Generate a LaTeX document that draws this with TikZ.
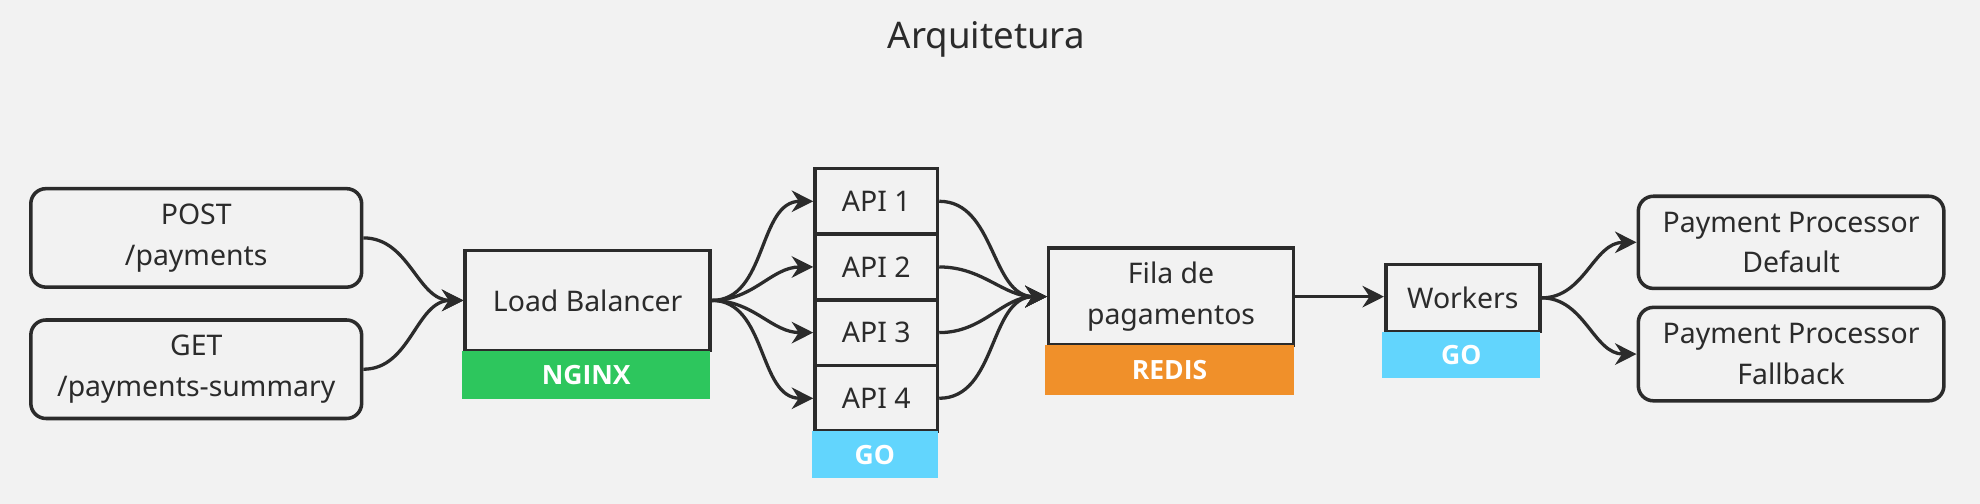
\documentclass[tikz,border=0pt]{standalone}
\usepackage{fontspec}
\setmainfont{Noto Sans}
\newfontfamily\badgefont{Open Sans}
\usetikzlibrary{arrows.meta}
\definecolor{bgc}{HTML}{F2F2F2}
\definecolor{ink}{HTML}{2B2B2B}
\definecolor{nginxc}{HTML}{2DC65D}
\definecolor{redisc}{HTML}{F0902A}
\definecolor{goc}{HTML}{62D5FD}
\tikzset{
  box/.style={draw=ink, line width=2.8pt, fill=bgc, text=ink, align=center, inner sep=0pt,
    anchor=north west, font=\fontsize{22.5}{32}\selectfont},
  rbox/.style={box, rounded corners=12pt},
  badge/.style={fill=#1, draw=none, text=white, inner sep=0pt, anchor=north west,
    font=\badgefont\bfseries\fontsize{21}{24}\selectfont},
  conn/.style={draw=ink, line width=2.6pt, -{Stealth[length=17pt,width=17pt]}},
}
\begin{document}
\begin{tikzpicture}[x=1pt,y=-1pt]
\fill[bgc] (0,0) rectangle (1568,399.1);
\useasboundingbox (0,0) rectangle (1568,399.1);
\node[text=ink, font=\fontsize{29}{34}\selectfont] (title) at (781,31) {Arquitetura};

\node[rbox, minimum width=262pt, minimum height=78pt] (post) at (23,148) {POST\\/payments};
\node[rbox, minimum width=262pt, minimum height=78pt] (get) at (23,252) {GET\\/payments-summary};

\node[box, minimum width=194pt, minimum height=79pt] (lb) at (367,197) {Load Balancer};
\node[badge=nginxc, minimum width=196.8pt, minimum height=38pt] (nginx) at (365.6,277.4) {NGINX};

\node[box, minimum width=97pt, minimum height=52pt] (api1) at (644,132) {API 1};
\node[box, minimum width=97pt, minimum height=52pt] (api2) at (644,184) {API 2};
\node[box, minimum width=97pt, minimum height=52pt] (api3) at (644,236) {API 3};
\node[box, minimum width=97pt, minimum height=52pt] (api4) at (644,288) {API 4};
\node[badge=goc, minimum width=99.8pt, minimum height=37pt] (goapi) at (642.6,341.4) {GO};

\node[box, minimum width=194pt, minimum height=77pt] (fila) at (829,195) {Fila de\\pagamentos};
\node[badge=redisc, minimum width=196.8pt, minimum height=39pt] (redis) at (827.6,273.4) {REDIS};

\node[box, minimum width=122pt, minimum height=53pt] (workers) at (1096,208) {Workers};
\node[badge=goc, minimum width=124.8pt, minimum height=37pt] (gow) at (1094.6,262.4) {GO};

\node[rbox, minimum width=242pt, minimum height=73pt] (ppd) at (1296,154) {Payment Processor\\Default};
\node[rbox, minimum width=242pt, minimum height=74pt] (ppf) at (1296,242) {Payment Processor\\Fallback};

\draw[conn] (post.east) to[out=0,in=180] (lb.west);
\draw[conn] (get.east) to[out=0,in=180] (lb.west);
\foreach \a in {api1,api2,api3,api4}{
  \draw[conn] (lb.east) to[out=0,in=180] (\a.west);
  \draw[conn] (\a.east) to[out=0,in=180] (fila.west);
}
\draw[conn] (fila.east) -- (fila.east -| workers.west);
\draw[conn] (workers.east) to[out=0,in=180] (ppd.west);
\draw[conn] (workers.east) to[out=0,in=180] (ppf.west);
\end{tikzpicture}
\end{document}
